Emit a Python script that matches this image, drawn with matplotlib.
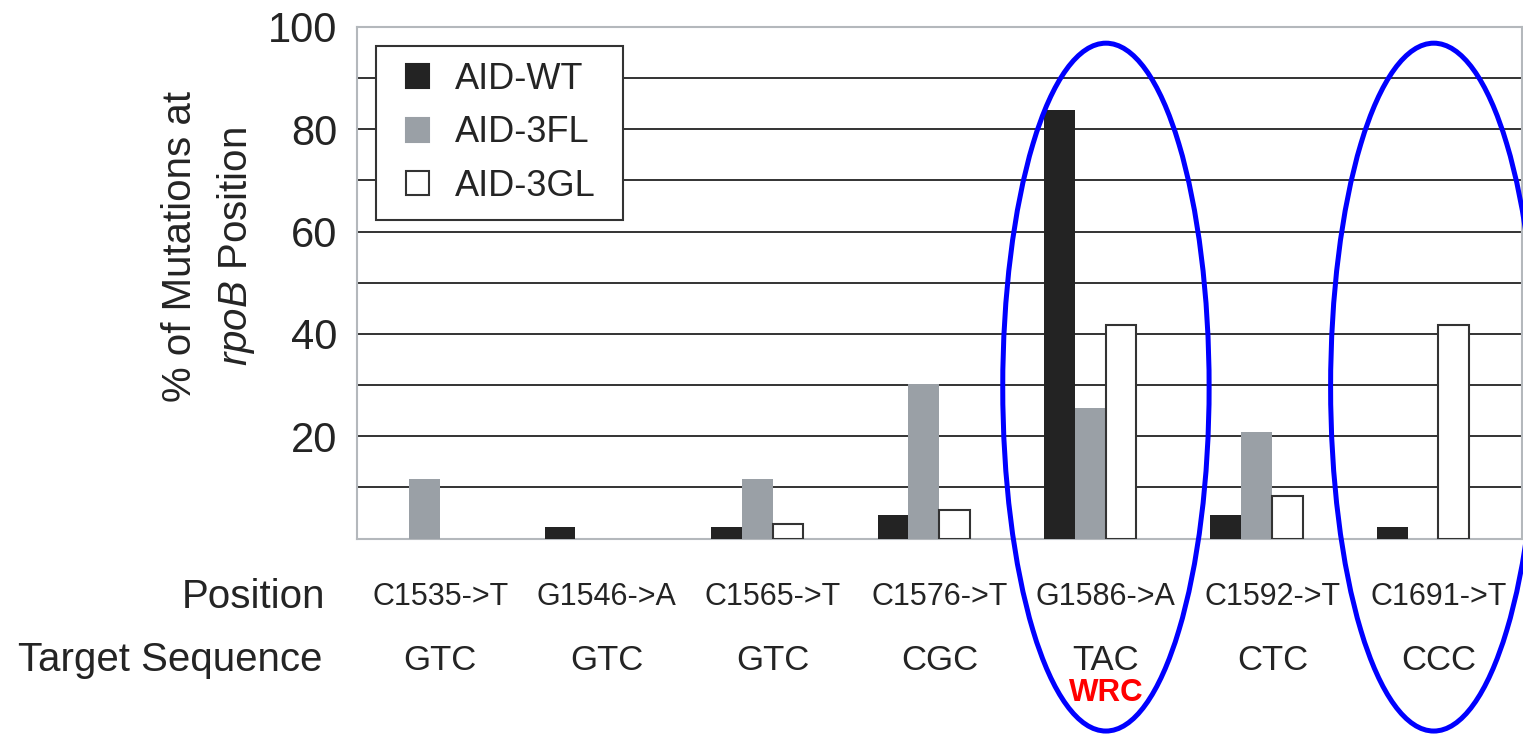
import matplotlib
matplotlib.use("Agg")
import matplotlib.pyplot as plt
import numpy as np
from matplotlib.patches import Ellipse, Patch, Rectangle
from matplotlib.legend_handler import HandlerPatch
from matplotlib.transforms import blended_transform_factory

plt.rcParams['font.family'] = ['Liberation Sans', 'DejaVu Sans']
plt.rcParams['mathtext.fontset'] = 'custom'
plt.rcParams['mathtext.rm'] = 'Liberation Sans'
plt.rcParams['mathtext.it'] = 'Liberation Sans:italic'

positions = ["C1535->T", "G1546->A", "C1565->T", "C1576->T", "G1586->A", "C1592->T", "C1691->T"]
target_seq = ["GTC", "GTC", "GTC", "CGC", "TAC", "CTC", "CCC"]
series_names = ["AID-WT", "AID-3FL", "AID-3GL"]
aid_wt = [0, 2.3, 2.3, 4.65, 83.7, 4.65, 2.3]
aid_3fl = [11.6, 0, 11.6, 30.2, 25.6, 20.9, 0]
aid_3gl = [0, 0, 2.8, 5.6, 41.7, 8.3, 41.7]
yticks = [20, 40, 60, 80, 100]
gridlines = [10, 20, 30, 40, 50, 60, 70, 80, 90]

TXT = '#242424'
W, H = 1523, 734
fig = plt.figure(figsize=(W / 100, H / 100), dpi=100)
ax = fig.add_axes([357 / W, 1 - 538.6 / H, 1165 / W, 511.8 / H])

x = np.arange(len(positions))
bw = 0.185
offs = [-0.28, -0.095, 0.09]
fills = ['#232323', '#9aa0a6', 'white']
edges = ['#232323', '#9aa0a6', '#333333']
for vals, off, fc, ec in zip([aid_wt, aid_3fl, aid_3gl], offs, fills, edges):
    ecs = [ec if v > 0 else 'none' for v in vals]
    ax.bar(x + off, vals, width=bw, color=fc, edgecolor=ecs,
           linewidth=1.5 if fc == 'white' else 0, zorder=3)

for g in gridlines:
    ax.axhline(g, color='#333333', linewidth=1.4, zorder=1)

ax.set_xlim(-0.5, 6.5)
ax.set_ylim(0, 100)
ax.set_xticks([])
ax.set_yticks(yticks)
ax.set_yticklabels([str(t) for t in yticks], fontsize=30, color=TXT)
ax.tick_params(axis='y', length=0, pad=14)
for s in ax.spines.values():
    s.set_color('#b4b8bc')
    s.set_linewidth(1.5)


def square_right(legend, orig_handle, xdescent, ydescent, width, height, fontsize):
    return Rectangle((-xdescent + width - height, -ydescent), height, height)


handles = [Patch(facecolor=fc, edgecolor=('#333333' if fc == 'white' else fc), linewidth=1.5)
           for fc in fills]
x0 = (376 - 357) / 1165
y1 = (538.6 - 46) / 511.8
leg = ax.legend(handles, series_names, loc='upper left',
                bbox_to_anchor=(x0, y1 - 0.5, (623 - 376) / 1165, 0.5),
                mode='expand',
                borderaxespad=0, fontsize=26, handlelength=1.04, handleheight=0.64,
                handletextpad=0.71, borderpad=0.44, labelspacing=0.51,
                fancybox=False, framealpha=1, edgecolor='#333333',
                handler_map={Patch: HandlerPatch(patch_func=square_right)})
leg.get_frame().set_linewidth(1.5)
for t in leg.get_texts():
    t.set_color(TXT)
leg.set_zorder(5)

# y label
fig.text(209 / W, 1 - 247 / H, "% of Mutations at\n$\\mathit{rpoB}$ Position",
         rotation=90, ha='center', va='center', multialignment='center',
         fontsize=29, color=TXT, linespacing=1.5)

# category rows
tr = blended_transform_factory(ax.transData, fig.transFigure)
for i, (p, s) in enumerate(zip(positions, target_seq)):
    ax.text(i, 1 - 597 / H, p, transform=tr, ha='center', va='center',
            fontsize=22, color=TXT)
    ax.text(i, 1 - 660 / H, s, transform=tr, ha='center', va='center',
            fontsize=25, color=TXT)
fig.text(325 / W, 1 - 597 / H, "Position", ha='right', va='center', fontsize=29, color=TXT)
fig.text(322 / W, 1 - 660 / H, "Target Sequence", ha='right', va='center', fontsize=29, color=TXT)
ax.text(4, 1 - 693 / H, "WRC", transform=tr, ha='center', va='center',
        fontsize=22.5, color='#ff0000', fontweight='bold')

# highlight ellipses
for cx in [4.0, 5.97]:
    e = Ellipse((cx, 29.6), width=1.24, height=134.4, fill=False,
                edgecolor='#0000ff', linewidth=3.6, clip_on=False, zorder=6)
    ax.add_patch(e)

fig.savefig("out.png", dpi=100)
